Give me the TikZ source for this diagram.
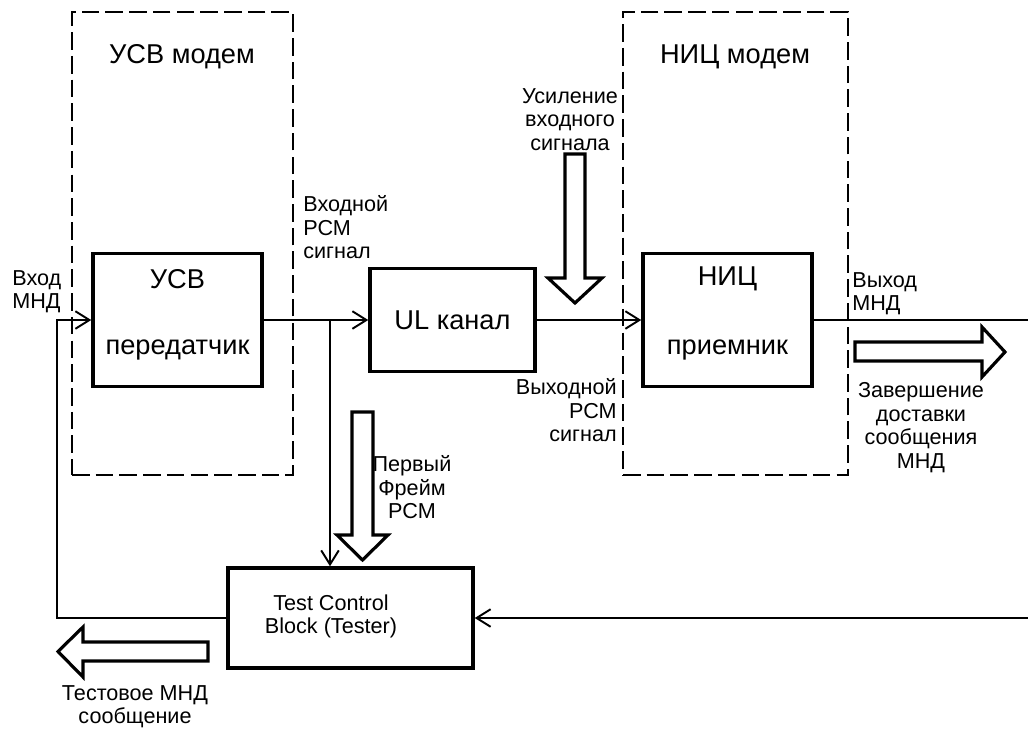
\documentclass[tikz,border=0pt]{standalone}
\usepackage{fontspec}
\setmainfont{Liberation Sans}
\usetikzlibrary{arrows.meta, positioning, calc}

\begin{document}
\begin{tikzpicture}[
    x=0.02cm, y=-0.02cm,
    every node/.style={font=\fontsize{12.3}{13.5}\selectfont, inner sep=0},
    big/.style={font=\fontsize{15.5}{18}\selectfont},
    box/.style={draw, line width=2pt, minimum width=#1},
    box/.default=3.38cm,
    modem/.style={draw, line width=1.1pt, dash pattern=on 10pt off 3.5pt,
                  minimum height=9.26cm, minimum width=#1},
    sig/.style={line width=1.1pt, -{Straight Barb[length=8pt, width=10pt]}},
    wire/.style={line width=1.1pt},
    hollow/.style={draw, line width=1.8pt, fill=white, miter limit=10}
]
\useasboundingbox (0,0) rectangle (1028,728);

% Modem frames
\node[modem=4.42cm] (usvmodem) at (182.5,243.5) {};
\node[modem=4.5cm] (nicmodem) at (735.5,243.5) {};
\node[big] (usvmodem-name) at (182,57) {УСВ модем};
\node[big] (nicmodem-name) at (735,57) {НИЦ модем};

% Transmitter, channel, receiver
\node[box, minimum height=2.66cm] (tx) at (177.5,320) {};
\node[big] (tx-name) at ([yshift=-0.55cm]tx.north) {УСВ};
\node[big, anchor=base] (tx-role) at ([yshift=0.68cm]tx.south) {передатчик};

\node[box=3.3cm, minimum height=2.06cm, big] (ul) at (452.5,320) {UL канал};

\node[box, minimum height=2.66cm] (rx) at (727.5,320) {};
\node[big] (rx-name) at ([yshift=-0.55cm]rx.north) {НИЦ};
\node[big, anchor=base] (rx-role) at ([yshift=0.68cm]rx.south) {приемник};

% Tester
\node[box=4.9cm, minimum height=2cm] (tcb) at (350.5,618) {};
\node[align=center] (tcb-name) at ([xshift=-0.39cm, yshift=0.03cm]tcb.center)
    {Test Control\\Block (Tester)};

% Free ends
\coordinate (tap) at (330,320);
\coordinate (out) at (1028,320);
\coordinate (fbin) at (1028,618);
\coordinate (fbl) at (57,618);

% Signal path
\draw[sig] (tx.east) -- (ul.west);
\draw[sig] (ul.east) -- (rx.west);
\draw[wire] (rx.east) -- (out);
\draw[sig] (tap) -- (tap |- tcb.north);
\draw[sig] (fbin) -- (tcb.east);
\draw[sig] (tcb.west) -- (fbl) |- (tx.west);

% Labels
\node[anchor=north west, align=left] (in-lbl) at (12,270) {Вход\\МНД};
\node[anchor=north west, align=left] (pcmin-lbl) at (303,195) {Входной\\РСМ\\сигнал};
\node[anchor=north, align=center] (gain-lbl) at (570,88) {Усиление\\входного\\сигнала};
\node[anchor=north east, align=right] (pcmout-lbl) at (617,378) {Выходной\\РСМ\\сигнал};
\node[anchor=north west, align=left] (out-lbl) at (852,272) {Выход\\МНД};
\node[anchor=north, align=center] (done-lbl) at (921,382) {Завершение\\доставки\\сообщения\\МНД};
\node[anchor=north, align=center] (frame-lbl) at (412,455) {Первый\\Фрейм\\РСМ};
\node[anchor=north, align=center] (test-lbl) at (135,685) {Тестовое МНД\\сообщение};

% Block arrows
\draw[hollow] (565,154) -- (585,154) -- (585,278) -- (602,278) -- (575,303)
    -- (548,278) -- (565,278) -- cycle;
\draw[hollow] (352,412) -- (373,412) -- (373,535) -- (388,535) -- (362.5,560)
    -- (337,535) -- (352,535) -- cycle;
\draw[hollow] (855,342) -- (982,342) -- (982,327) -- (1005,352) -- (982,377)
    -- (982,361) -- (855,361) -- cycle;
\draw[hollow] (208,642) -- (83,642) -- (83,627) -- (58,651.5) -- (83,677)
    -- (83,661) -- (208,661) -- cycle;

\end{tikzpicture}
\end{document}
